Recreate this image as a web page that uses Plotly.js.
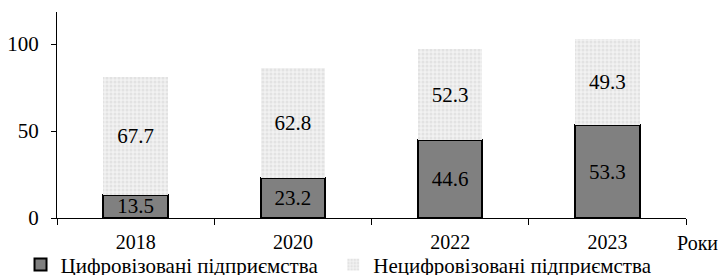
<!DOCTYPE html>
<html>
<head>
<meta charset="utf-8">
<script src="https://cdn.plot.ly/plotly-3.0.1.min.js"></script>
<style>html,body{margin:0;padding:0;background:#fff;}#chart{width:720px;height:275px;}</style>
</head>
<body>
<div id="chart"></div>
<script>
var years = ['2018', '2020', '2022', '2023'];
var digitized = [13.5, 23.2, 44.6, 53.3];
var nonDigitized = [67.7, 62.8, 52.3, 49.3];
var seriesNames = ['Цифровізовані підприємства', 'Нецифровізовані підприємства'];
var xAxisLabel = 'Роки';

function serif(size) {
  return {family: 'Liberation Serif', size: size || 20, color: '#000000'};
}

var traces = [
  {
    type: 'bar', x: years, y: digitized, name: seriesNames[0] + '\u00a0\u00a0',
    text: digitized.map(function(v){return v.toFixed(1);}),
    textposition: 'inside', insidetextanchor: 'middle', constraintext: 'none',
    textfont: serif(21), insidetextfont: serif(21), hoverinfo: 'skip',
    marker: {color: '#808080', line: {color: '#000', width: 2}}
  },
  {
    type: 'bar', x: years, y: nonDigitized, name: seriesNames[1],
    text: nonDigitized.map(function(v){return v.toFixed(1);}),
    textposition: 'inside', insidetextanchor: 'middle', constraintext: 'none',
    textfont: serif(21), insidetextfont: serif(21), hoverinfo: 'skip',
    marker: {color: '#f0f0f0', line: {width: 0},
      pattern: {shape: '.', bgcolor: '#f2f2f2', fgcolor: '#e2e2e2', size: 4, solidity: 0.45}}
  }
];

var layout = {
  width: 720, height: 275,
  margin: {l: 57, r: 34, t: 12, b: 57, autoexpand: false},
  barmode: 'stack', bargap: 0.59,
  paper_bgcolor: '#fff', plot_bgcolor: '#fff',
  font: serif(),
  showlegend: true,
  legend: {orientation: 'h', x: -0.058, xanchor: 'left', y: -0.228, yanchor: 'middle',
    bgcolor: 'rgba(0,0,0,0)', borderwidth: 0,
    font: serif(21), itemwidth: 30, traceorder: 'normal'},
  xaxis: {
    type: 'category', showline: true, linecolor: '#000', linewidth: 1,
    ticks: 'outside', tickson: 'boundaries', ticklen: 6, tickcolor: '#000',
    showgrid: false, zeroline: false, tickfont: serif(20), ticklabelstandoff: 6, fixedrange: true
  },
  yaxis: {
    range: [0, 118.4], tickvals: [0, 50, 100], showline: true, linecolor: '#000', linewidth: 1,
    ticks: 'outside', ticklen: 5, tickcolor: '#000', showgrid: false, zeroline: false,
    tickfont: serif(21), ticklabelstandoff: 8, fixedrange: true
  },
  annotations: [
    {text: xAxisLabel, xref: 'paper', yref: 'paper', x: 0.982, y: -0.121, xanchor: 'left', yanchor: 'middle',
     showarrow: false, font: serif(20)}
  ]
};

Plotly.newPlot('chart', traces, layout, {staticPlot: true, displayModeBar: false});
</script>
</body>
</html>
